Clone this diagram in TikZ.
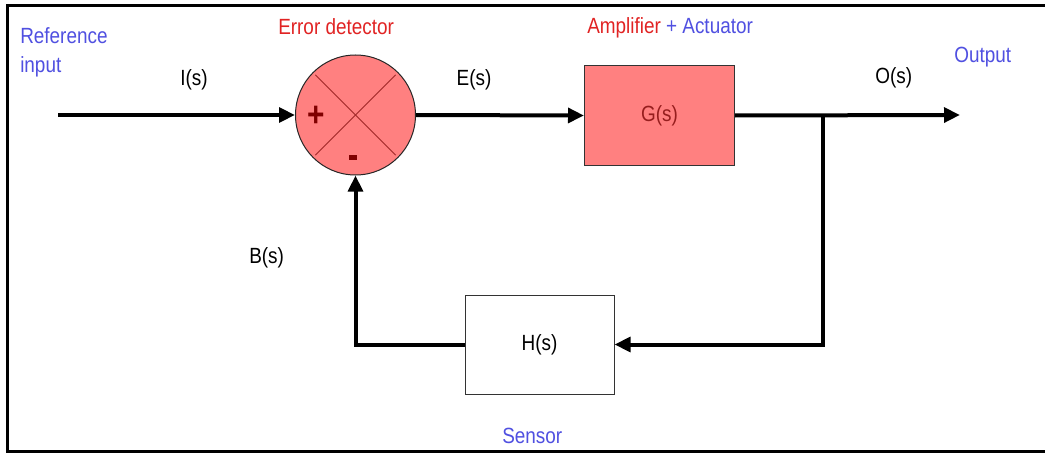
\documentclass[tikz,border=0pt]{standalone}
\usepackage{fontspec}
\setmainfont[FakeStretch=0.86]{Liberation Sans}
\usetikzlibrary{arrows.meta,calc}
\definecolor{lblue}{RGB}{80,80,225}
\definecolor{lred}{RGB}{225,35,35}
\definecolor{salmon}{RGB}{255,128,128}
\definecolor{dred}{RGB}{128,0,0}
\definecolor{gred}{RGB}{150,30,30}
\definecolor{xred}{RGB}{160,40,40}
\begin{document}
\begin{tikzpicture}[x=0.75pt,y=-0.75pt,
  every node/.style={font=\fontsize{16.5}{21.75}\selectfont},
  lbl/.style={inner sep=0pt,anchor=base west},
  sig/.style={line width=3pt,-{Triangle[length=12pt,width=11pt]}},
  sumnode/.style={circle,draw=black!85,line width=0.75pt,fill=salmon,minimum size=90pt,inner sep=0pt},
  gbox/.style={draw=black!80,line width=0.75pt,fill=salmon,minimum width=112.5pt,minimum height=74.25pt,inner sep=0pt,text=gred},
  hbox/.style={draw=black!80,line width=0.75pt,fill=white,minimum width=111.75pt,minimum height=74.25pt,inner sep=0pt},
  xline/.style={draw=xred,line width=0.6pt},
  frameline/.style={line width=2.25pt}]
\fill[white] (0,0) rectangle (1045,453);
\useasboundingbox (0,0) rectangle (1045,453);
\draw[frameline] (1045,451) -- (7.5,451) -- (7.5,6) -- (1045,6);

% nodes
\coordinate (in) at (58,115);
\node[sumnode] (sum) at (355.5,115) {};
\node[gbox] (G) at (659.5,115.5) {G(s)};
\node[hbox] (H) at (539.5,344.5) {H(s)};
\coordinate (out) at (960,115);
\coordinate (br) at (823,115);

% cross in summing junction
\draw[xline] ($(sum.center)!0.94!(sum.north west)$) -- ($(sum.center)!0.94!(sum.south east)$);
\draw[xline] ($(sum.center)!0.94!(sum.north east)$) -- ($(sum.center)!0.94!(sum.south west)$);
\node[inner sep=0pt,text=dred,font=\fontsize{26}{26}\bfseries\selectfont] (plus) at (316,116) {+};
\fill[dred] (349,154.5) rectangle (357,159.5);

% connectors
\draw[sig] (in) -- (sum.west);
\draw[sig] (sum.east) -- (G.west);
\draw[sig] (G.east) -- (out);
\draw[sig] (br) |- (H.east);
\draw[sig] (H.west) -| (sum.south);

% labels
\node[lbl,text=lblue,align=left] (refin) at (20,73) {Reference\\input};
\node[lbl,text=lred] (errdet) at (278,35) {Error detector};
\node[lbl] (is) at (180,85) {I(s)};
\node[lbl,anchor=base] (es) at (474,85) {E(s)};
\node[lbl] (amp) at (587,34) {\textcolor{lred}{Amplifier} \textcolor{lblue}{+ Actuator}};
\node[lbl] (os) at (875,84) {O(s)};
\node[lbl,text=lblue] (outl) at (954,63) {Output};
\node[lbl] (bs) at (249,263) {B(s)};
\node[lbl,text=lblue] (sens) at (502,443) {Sensor};
\end{tikzpicture}
\end{document}
